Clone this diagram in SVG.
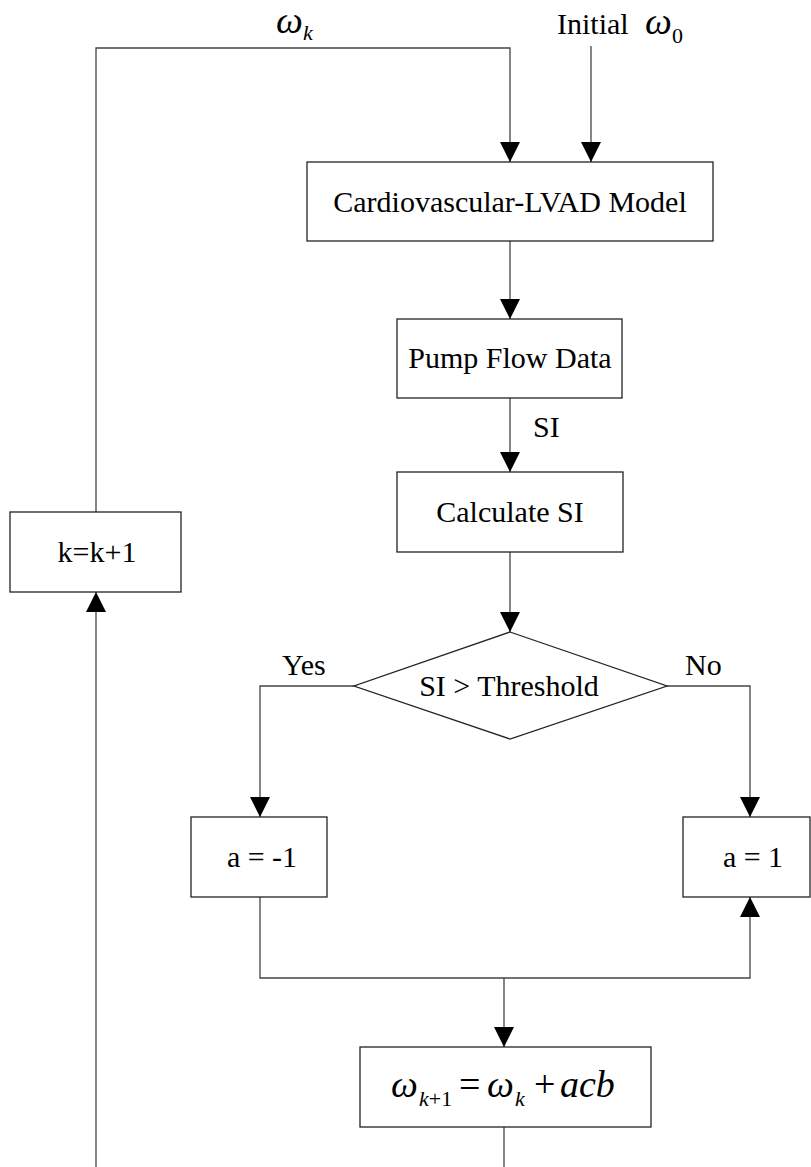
<svg xmlns="http://www.w3.org/2000/svg" width="811" height="1167" viewBox="0 0 811 1167">
<style>
.box{fill:#fff;stroke:#222;stroke-width:1.3}
.ln{fill:none;stroke:#444;stroke-width:1.3}
.t{font-family:"Liberation Serif","Times New Roman",serif;font-size:30px;fill:#000}
.c{text-anchor:middle}
.m{font-family:"Liberation Serif","Times New Roman",serif;font-style:italic;fill:#000}
</style>
<defs>
<marker id="ah" markerUnits="userSpaceOnUse" markerWidth="20" markerHeight="20" refX="20" refY="10" orient="auto" viewBox="0 0 20 20">
<path d="M0,0 L20,10 L0,20 z" fill="#000"/>
</marker>
</defs>
<rect width="811" height="1167" fill="#fff"/>
<g id="connectors">
<path class="ln" d="M96,512 V48 H510 V162" marker-end="url(#ah)"/>
<path class="ln" d="M591,46 V162" marker-end="url(#ah)"/>
<path class="ln" d="M510,241 V319" marker-end="url(#ah)"/>
<path class="ln" d="M510,398 V472" marker-end="url(#ah)"/>
<path class="ln" d="M510,552 V632" marker-end="url(#ah)"/>
<path class="ln" d="M354,686 H260 V817" marker-end="url(#ah)"/>
<path class="ln" d="M667,686 H750 V817" marker-end="url(#ah)"/>
<path class="ln" d="M260,897 V978 H750 V897" marker-end="url(#ah)"/>
<path class="ln" d="M504,978 V1047" marker-end="url(#ah)"/>
<path class="ln" d="M504,1127 V1167"/>
<path class="ln" d="M96,1167 V592" marker-end="url(#ah)"/>
<text class="m" x="276" y="33" font-size="38">ω</text>
<text class="m" x="303" y="40" font-size="22">k</text>
<text class="t" x="557" y="34">Initial</text>
<text class="m" x="645" y="34" font-size="38">ω</text>
<text class="t" x="672" y="43" style="font-size:22px">0</text>
<text class="t" x="533" y="437">SI</text>
<text class="t" x="282" y="675">Yes</text>
<text class="t" x="685" y="675">No</text>
</g>
<g id="model">
<rect class="box" x="307" y="162" width="406" height="79"/>
<text class="t c" x="510" y="212">Cardiovascular-LVAD Model</text>
</g>
<g id="pump">
<rect class="box" x="397" y="319" width="225" height="79"/>
<text class="t c" x="510" y="368">Pump Flow Data</text>
</g>
<g id="calc">
<rect class="box" x="397" y="472" width="226" height="80"/>
<text class="t c" x="510" y="522">Calculate SI</text>
</g>
<g id="incr">
<rect class="box" x="10" y="512" width="171" height="80"/>
<text class="t c" x="97" y="562">k=k+1</text>
</g>
<g id="decision">
<polygon class="box" points="510,632 667,686 510,739 354,686"/>
<text class="t c" x="509" y="696">SI &gt; Threshold</text>
</g>
<g id="aneg">
<rect class="box" x="191" y="817" width="136" height="80"/>
<text class="t c" x="262" y="867">a = -1</text>
</g>
<g id="apos">
<rect class="box" x="683" y="817" width="127" height="80"/>
<text class="t c" x="753" y="867">a = 1</text>
</g>
<g id="update">
<rect class="box" x="360" y="1047" width="291" height="80"/>
<text class="m" x="391" y="1097" font-size="38">ω</text>
<text class="m" x="419" y="1106" font-size="22">k<tspan font-style="normal">+1</tspan></text>
<text class="t" x="459" y="1097" style="font-size:38px">=</text>
<text class="m" x="487" y="1097" font-size="38">ω</text>
<text class="m" x="515" y="1106" font-size="22">k</text>
<text class="t" x="534" y="1097" style="font-size:38px">+</text>
<text class="m" x="560" y="1097" font-size="38">acb</text>
</g>
</svg>
